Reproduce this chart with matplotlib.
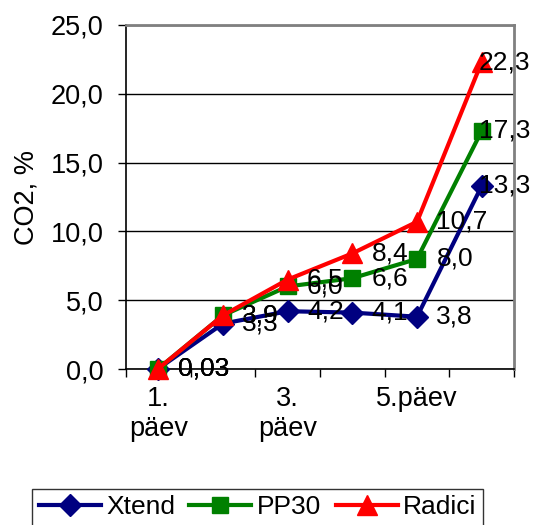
import matplotlib
matplotlib.use("Agg")
import matplotlib.pyplot as plt

plt.rcParams['font.family'] = ['Liberation Sans', 'DejaVu Sans']

days = ["1.\npäev", "2.\npäev", "3.\npäev", "4.\npäev", "5.päev", "6.päev"]
shown_days = [0, 2, 4]
xtend = [0.03, 3.3, 4.2, 4.1, 3.8, 13.3]
pp30 = [0.03, 3.9, 6.0, 6.6, 8.0, 17.3]
radici = [0.03, 3.9, 6.5, 8.4, 10.7, 22.3]
yticks = [0, 5, 10, 15, 20, 25]


def fmt(v):
    s = "%.2f" % v if v < 0.1 else "%.1f" % v
    return s.replace(".", ",")


fig = plt.figure(figsize=(5.33, 5.25), dpi=100)
ax = fig.add_axes([0.2364, 0.2971, 0.728, 0.6553])

x = list(range(len(days)))
series = [
    (xtend, "#000080", "D", 11, "Xtend"),
    (pp30, "#008000", "s", 12, "PP30"),
    (radici, "#ff0000", "^", 15, "Radici"),
]
for vals, col, mk, ms, lab in series:
    ax.plot(x, vals, color=col, lw=3, marker=mk, ms=ms, label=lab,
            clip_on=False, zorder=3)

for vals, col, mk, ms, lab in series:
    for i, v in enumerate(vals):
        dx = 14 if i < len(vals) - 1 else -2
        ax.annotate(fmt(v), (i, v), xytext=(dx, 0), textcoords="offset points",
                    ha="left", va="center", fontsize=19, zorder=5,
                    annotation_clip=False)

ax.set_xlim(-0.5, len(days) - 0.5)
ax.set_ylim(0, 25)
ax.set_yticks(yticks)
ax.set_yticklabels([("%.1f" % t).replace(".", ",") for t in yticks], fontsize=19.5)
ax.set_xticks([i - 0.5 for i in range(len(days) + 1)])
ax.set_xticklabels([])
ax.set_xticks(shown_days, minor=True)
ax.set_xticklabels([days[i] for i in shown_days], minor=True, fontsize=19.5)
ax.tick_params(axis="x", which="minor", length=0, pad=12)
ax.tick_params(axis="x", which="major", length=6, direction="out", width=1)
ax.tick_params(axis="y", length=6, direction="out", width=1, pad=10)

ax.yaxis.grid(True, color="black", lw=1)
ax.set_axisbelow(True)
for s in ["top", "right"]:
    ax.spines[s].set_color("#808080")
    ax.spines[s].set_linewidth(2)
ax.spines["left"].set_linewidth(1.2)
ax.spines["bottom"].set_linewidth(1.2)

ax.set_ylabel("CO2, %", fontsize=19.5, labelpad=8)

leg = fig.legend(loc="upper center", bbox_to_anchor=(0.483, 0.069), ncol=3,
                 fontsize=19, frameon=True, fancybox=False, edgecolor="black",
                 handlelength=2.35, handletextpad=0.2, columnspacing=0.55,
                 borderpad=0.25, borderaxespad=0)
leg.get_frame().set_linewidth(1)

fig.savefig("out.png", dpi=100)
